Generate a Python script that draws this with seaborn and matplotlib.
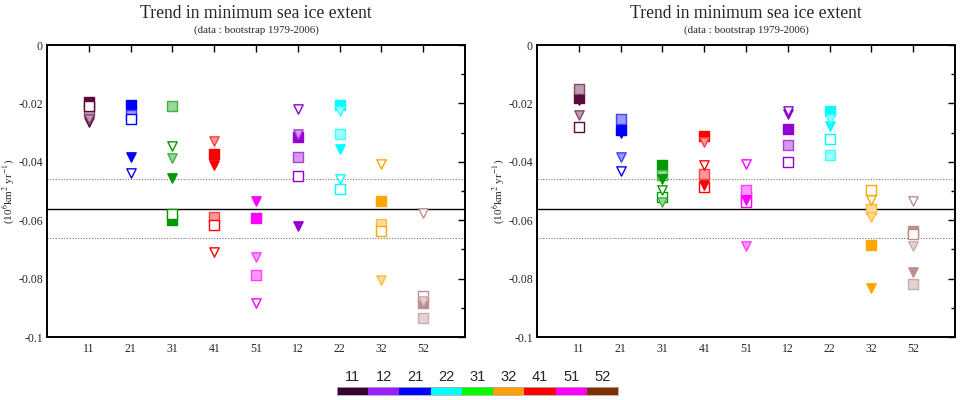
import numpy as np
import pandas as pd
import matplotlib
matplotlib.use('Agg')
import matplotlib.pyplot as plt
import seaborn as sns
from matplotlib.colors import ListedColormap, to_rgb
from matplotlib.ticker import FixedLocator, FixedFormatter

nan = np.nan

# categories on the x axis
cats = ['11', '21', '31', '41', '51', '12', '22', '32', '52']
cat_colors = ['#5c0a3c', '#0000ff', '#009900', '#ff0000', '#ff00ff',
              '#9400d3', '#00ffff', '#ffa500', '#bc8f8f']

# left panel values (10^6 km^2 / yr)
L_sq_filled = [-0.0196, -0.0206, -0.0600, -0.0372, -0.0593, -0.0315, -0.0206, -0.0533, -0.0882]
L_sq_light = [-0.0227, -0.0240, -0.0208, -0.0588, -0.0787, -0.0384, -0.0306, -0.0613, -0.0936]
L_sq_open = [-0.0210, -0.0255, -0.0580, -0.0615, nan, -0.0449, -0.0493, -0.0638, -0.0861]
L_tri_filled = [-0.0262, -0.0384, -0.0456, -0.0410, -0.0533, -0.0621, -0.0357, nan, nan]
L_tri_light = [-0.0255, nan, -0.0386, -0.0329, -0.0725, -0.0305, -0.0226, -0.0805, -0.0876]
L_tri_open = [nan, -0.0437, -0.0347, -0.0708, -0.0885, -0.0218, -0.0458, -0.0407, -0.0576]

# right panel values
R_sq_filled = [-0.0180, -0.0292, -0.0412, -0.0313, -0.0519, -0.0289, -0.0227, -0.0684, -0.0636]
R_sq_light = [-0.0152, -0.0255, -0.0444, -0.0441, -0.0496, -0.0344, -0.0376, -0.0561, -0.0817]
R_sq_open = [-0.0281, nan, -0.0521, -0.0485, -0.0538, -0.0401, -0.0323, -0.0496, -0.0647]
R_tri_filled = [-0.0187, -0.0303, -0.0458, -0.0478, -0.0530, -0.0237, -0.0278, -0.0833, -0.0779]
R_tri_light = [-0.0241, -0.0384, -0.0538, -0.0332, -0.0687, nan, -0.0255, -0.0588, -0.0690]
R_tri_open = [nan, -0.0430, -0.0496, -0.0410, -0.0407, -0.0227, nan, -0.0530, -0.0533]

obs_mean = -0.056
obs_band = 0.010

# colour bar at the bottom
bar_labels = ['11', '12', '21', '22', '31', '32', '41', '51', '52']
bar_colors = ['#3a0030', '#9a20ff', '#0000ff', '#00ffff', '#00ff00',
              '#ffa000', '#ff0000', '#ff00ff', '#803000']

y_ticks = [0, -0.02, -0.04, -0.06, -0.08, -0.1]
y_labels = ['0', '-0.02', '-0.04', '-0.06', '-0.08', '-0.1']

sns.set_style('white')
plt.rcParams['font.family'] = ['Liberation Serif', 'DejaVu Serif']
plt.rcParams['mathtext.fontset'] = 'stix'


def lighten(c, f=0.6):
    r = np.array(to_rgb(c))
    return tuple(r + (1 - r) * f)


def draw_panel(ax, series):
    ax.axhline(obs_mean, color='black', lw=1.0, zorder=1)
    ax.axhline(obs_mean + obs_band, color='#777777', lw=0.8, ls=(0, (1, 1.5)), zorder=1)
    ax.axhline(obs_mean - obs_band, color='#777777', lw=0.8, ls=(0, (1, 1.5)), zorder=1)
    for vals, marker, kind in series:
        df = pd.DataFrame({'pos': np.arange(1, 10), 'val': vals, 'col': cat_colors})
        df = df.dropna()
        for _, r in df.iterrows():
            if kind == 'filled':
                face = r['col']
            elif kind == 'light':
                face = lighten(r['col'], 0.6)
            else:
                face = 'white'
            edge = r['col'] if kind != 'light' else lighten(r['col'], 0.25)
            sns.scatterplot(x=[r['pos']], y=[r['val']], marker=marker, s=45,
                            color=edge, facecolor=face, edgecolor=edge,
                            linewidth=1.0, ax=ax, legend=False, zorder=3)
    ax.set_xlim(0, 10)
    ax.set_ylim(-0.1, 0)
    ax.xaxis.set_major_locator(FixedLocator(list(range(1, 10))))
    ax.xaxis.set_major_formatter(FixedFormatter(cats))
    ax.yaxis.set_major_locator(FixedLocator(y_ticks))
    ax.yaxis.set_major_formatter(FixedFormatter(y_labels))
    ax.yaxis.set_minor_locator(FixedLocator([-0.01, -0.03, -0.05, -0.07, -0.09]))
    ax.tick_params(which='both', direction='in', top=True, right=True,
                   labelsize=8.5, width=1.0, color='black')
    ax.tick_params(which='major', length=5)
    ax.tick_params(which='minor', length=3)
    ax.tick_params(axis='x', labeltop=False, pad=4)
    ax.tick_params(axis='y', pad=3)
    for s in ax.spines.values():
        s.set_color('black')
        s.set_linewidth(1.4)
    ax.set_xlabel('')
    ax.set_ylabel(r'(10$^6$km$^2$ yr$^{-1}$)', fontsize=8, va='center')
    ax.yaxis.set_label_coords(-0.092, 0.5)


fig = plt.figure(figsize=(9.61, 4.0), dpi=100)
ax1 = fig.add_axes([47 / 961, 1 - 337 / 400, (465 - 47) / 961, (337 - 45) / 400])
ax2 = fig.add_axes([537 / 961, 1 - 337 / 400, (955 - 537) / 961, (337 - 45) / 400])

draw_panel(ax1, [(L_sq_filled, 's', 'filled'), (L_sq_light, 's', 'light'), (L_sq_open, 's', 'open'),
                 (L_tri_filled, 'v', 'filled'), (L_tri_light, 'v', 'light'), (L_tri_open, 'v', 'open')])
draw_panel(ax2, [(R_sq_filled, 's', 'filled'), (R_sq_light, 's', 'light'), (R_sq_open, 's', 'open'),
                 (R_tri_filled, 'v', 'filled'), (R_tri_light, 'v', 'light'), (R_tri_open, 'v', 'open')])

for ax in (ax1, ax2):
    pos = ax.get_position()
    cx = (pos.x0 + pos.x1) / 2
    fig.text(cx, 1 - 14 / 400, 'Trend in minimum sea ice extent', ha='center', va='center', fontsize=12.7)
    fig.text(cx, 1 - 30 / 400, '(data : bootstrap 1979-2006)', ha='center', va='center', fontsize=7.8)

# colour bar legend
axc = fig.add_axes([337 / 961, 1 - 395 / 400, (618 - 337) / 961, 8.5 / 400])
sns.heatmap(np.arange(9).reshape(1, 9), cmap=ListedColormap(bar_colors), cbar=False,
            ax=axc, xticklabels=bar_labels, yticklabels=False, linewidths=0)
axc.xaxis.tick_top()
axc.tick_params(axis='x', length=0, pad=2, labelsize=10.5, rotation=0)
for lab in axc.get_xticklabels():
    lab.set_family(['Liberation Sans', 'DejaVu Sans'])
for s in axc.spines.values():
    s.set_visible(True)
    s.set_color('#aaaaaa')
    s.set_linewidth(0.6)

fig.savefig('out.png', dpi=100)
